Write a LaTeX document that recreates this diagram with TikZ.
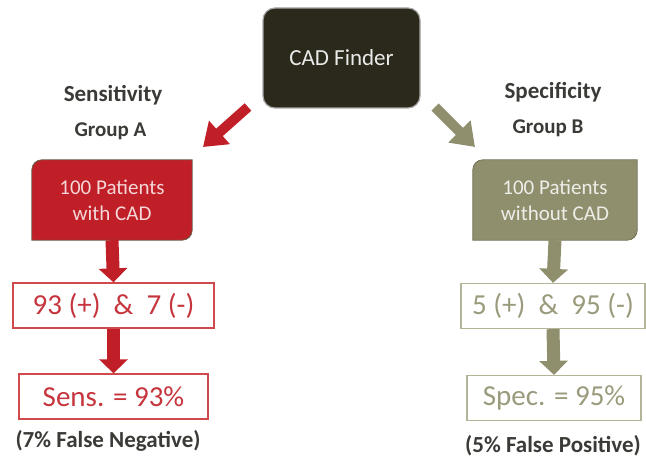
\documentclass[tikz,border=0pt]{standalone}
\usepackage{fontspec}
\setmainfont{Carlito}
\usepackage{xcolor}
\usepackage{tikz}
\usetikzlibrary{arrows.meta,backgrounds}
\definecolor{cadred}{HTML}{C01F27}
\definecolor{cadredln}{HTML}{D0494C}
\definecolor{cadolive}{HTML}{8F8F6E}
\definecolor{cadoliveln}{HTML}{B4B499}
\definecolor{caddark}{HTML}{2B281C}
\definecolor{cadgray}{HTML}{3A3A36}
\tikzset{
  fnd/.style={fill=caddark,draw=black!35,line width=1.2pt,rounded corners=12pt,minimum width=157pt,minimum height=100pt,inner sep=0pt,text=white!90!caddark,font=\fontsize{23}{26}\selectfont},
  grp/.style={minimum height=80pt,inner sep=0pt,align=center,font=\fontsize{21}{26}\selectfont},
  res/.style={draw,line width=1.3pt,minimum height=45pt,inner sep=0pt,font=\fontsize{29}{32}\selectfont},
  lbl/.style={text=cadgray,font=\bfseries\fontsize{23}{26}\selectfont},
  blk/.style={line width=13pt,-{Triangle[length=14pt,width=28pt]}},
  dg/.style={line width=10pt,-{Triangle[length=22pt,width=30pt]}}
}
\begin{document}
\begin{tikzpicture}[x=1pt,y=-1pt]
\useasboundingbox (0,0) rectangle (646,460);
\node[fnd] (finder) at (341.5,58) {CAD Finder};
% group A
\node[lbl] (sensA) at (113,95) {Sensitivity};
\node[lbl,font=\bfseries\fontsize{21}{24}\selectfont] (grpA) at (110.5,131) {Group A};
\node[grp,minimum width=160pt,text=white!82!cadred] (boxA) at (112,200) {100 Patients\\with CAD};
\node[res,minimum width=201pt,draw=cadredln,text=cadred!90!white] (resA) at (113.5,305.5) {93 (+)\ \ \&\ \ 7 (-)};
\node[res,minimum width=189pt,draw=cadredln,text=cadred!90!white] (valA) at (113.5,396.5) {Sens. = 93\%};
\node[lbl] (noteA) at (108,441) {(7\% False Negative)};
% group B
\node[lbl] (specB) at (553,92) {Specificity};
\node[lbl,font=\bfseries\fontsize{21}{24}\selectfont] (grpB) at (548,128) {Group B};
\node[grp,minimum width=164pt,text=white!85!cadolive] (boxB) at (555,200) {100 Patients\\without CAD};
\node[res,minimum width=184pt,draw=cadoliveln,text=cadolive!90!white] (resB) at (553,306) {5 (+)\ \ \&\ \ 95 (-)};
\node[res,minimum width=174pt,draw=cadoliveln,text=cadolive!90!white] (valB) at (554,398) {Spec. = 95\%};
\node[lbl] (noteB) at (553,446) {(5\% False Positive)};
\begin{scope}[on background layer]
\filldraw[fill=cadred,draw=cadolive!70!black,line width=0.8pt] (boxA.north) -- (boxA.north east) [rounded corners=10pt] -- (boxA.south east) [sharp corners] -- (boxA.south west) [rounded corners=10pt] -- (boxA.north west) [sharp corners] -- cycle;
\filldraw[fill=cadolive,draw=cadolive!80!black,line width=0.8pt] (boxB.north) -- (boxB.north east) [rounded corners=10pt] -- (boxB.south east) [sharp corners] -- (boxB.south west) [rounded corners=10pt] -- (boxB.north west) [sharp corners] -- cycle;
\end{scope}
% arrows
\coordinate (tA) at (248,107);
\coordinate (hA) at (203,147);
\coordinate (tB) at (435,107);
\coordinate (hB) at (475,147);
\draw[dg,cadred] (tA) -- (hA);
\draw[dg,cadolive] (tB) -- (hB);
\draw[blk,cadred] (boxA.south) -- (resA.north);
\draw[blk,cadred] (resA.south) -- (valA.north);
\draw[blk,cadolive] (boxB.south) -- (resB.north);
\draw[blk,cadolive] (resB.south) -- (valB.north);
\end{tikzpicture}
\end{document}
